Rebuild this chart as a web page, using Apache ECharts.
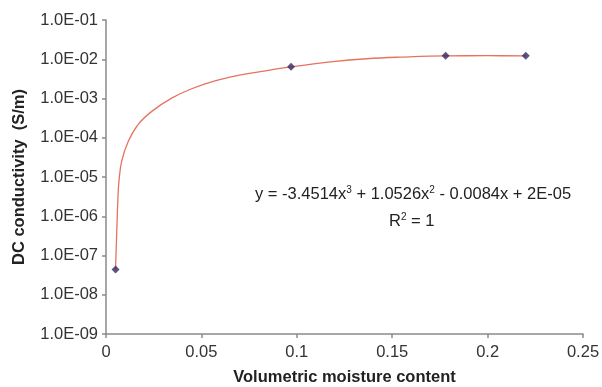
<!DOCTYPE html>
<html>
<head>
<meta charset="utf-8">
<script src="https://cdn.jsdelivr.net/npm/echarts@6/dist/echarts.min.js"></script>
<style>
  html, body { margin: 0; padding: 0; background: #fff; }
  #chart { width: 602px; height: 387px; }
</style>
</head>
<body>
<div id="chart"></div>
<script>
// measured points (diamonds)
var pointX = [0.005, 0.097, 0.178, 0.22];
var pointY = [4.4e-8, 6.4e-3, 1.22e-2, 1.22e-2];

// trendline
var curveX = [0.005, 0.0057, 0.0062, 0.0068, 0.0082, 0.0117, 0.0169, 0.024, 0.0344, 0.0449, 0.0571, 0.0693, 0.0816, 0.097, 0.119, 0.1366, 0.154, 0.178, 0.2, 0.22];
var curveY = [4.4e-8, 5e-7, 2.5e-6, 7.9e-6, 2.5e-5, 8.1e-5, 2.2e-4, 4.7e-4, 1.02e-3, 1.77e-3, 2.8e-3, 3.86e-3, 4.9e-3, 6.4e-3, 8.7e-3, 1.03e-2, 1.13e-2, 1.22e-2, 1.23e-2, 1.22e-2];

var xTicks = [0, 0.05, 0.1, 0.15, 0.2, 0.25];

var font = 'Liberation Sans, Arial, sans-serif';

function expLabel(v) {
  var e = Math.round(Math.log10(v));
  var s = Math.abs(e) < 10 ? '0' + Math.abs(e) : '' + Math.abs(e);
  return '1.0E' + (e < 0 ? '-' : '+') + s;
}

var rich = {
  a: { fontFamily: font, fontSize: 16.5, fill: '#222' },
  s: { fontFamily: font, fontSize: 10, fill: '#222', verticalAlign: 'top', padding: [0, 0, 9, 0] }
};

var chart = echarts.init(document.getElementById('chart'));
chart.setOption({
  animation: false,
  grid: { left: 106, right: 19, top: 20, bottom: 53, outerBoundsMode: 'none' },
  xAxis: {
    type: 'value',
    min: xTicks[0],
    max: xTicks[xTicks.length - 1],
    interval: 0.05,
    name: 'Volumetric moisture content',
    nameLocation: 'middle',
    nameGap: 35,
    nameTextStyle: { fontFamily: font, fontSize: 16.5, fontWeight: 'bold', color: '#222' },
    axisLine: { lineStyle: { color: '#8a8a8a', width: 1.5 } },
    axisTick: { show: true, length: 4, inside: false, lineStyle: { color: '#8a8a8a', width: 1.5 } },
    axisLabel: { fontFamily: font, fontSize: 16.5, color: '#333', margin: 10 },
    splitLine: { show: false }
  },
  yAxis: {
    type: 'log',
    logBase: 10,
    min: 1e-9,
    max: 1e-1,
    name: 'DC conductivity  (S/m)',
    nameLocation: 'middle',
    nameGap: 78,
    nameTextStyle: { fontFamily: font, fontSize: 16.5, fontWeight: 'bold', color: '#222' },
    axisLine: { show: true, lineStyle: { color: '#8a8a8a', width: 1.5 } },
    axisTick: { show: true, length: 4, lineStyle: { color: '#8a8a8a', width: 1.5 } },
    axisLabel: { fontFamily: font, fontSize: 16.5, color: '#333', margin: 8, formatter: expLabel },
    splitLine: { show: false },
    minorTick: { show: false }
  },
  series: [
    {
      type: 'line',
      data: curveX.map(function (x, i) { return [x, curveY[i]]; }),
      smooth: 0.4,
      showSymbol: false,
      lineStyle: { color: '#e5735f', width: 1.3 },
      z: 2
    },
    {
      type: 'scatter',
      data: pointX.map(function (x, i) { return [x, pointY[i]]; }),
      symbol: 'diamond',
      symbolSize: 8,
      itemStyle: { color: '#34285e' },
      z: 3
    }
  ],
  graphic: [
    {
      type: 'text',
      left: 255,
      top: 185,
      style: { text: '{a|y = -3.4514x}{s|3}{a| + 1.0526x}{s|2}{a| - 0.0084x + 2E-05}', rich: rich }
    },
    {
      type: 'text',
      left: 389,
      top: 212,
      style: { text: '{a|R}{s|2}{a| = 1}', rich: rich }
    }
  ]
});
</script>
</body>
</html>
